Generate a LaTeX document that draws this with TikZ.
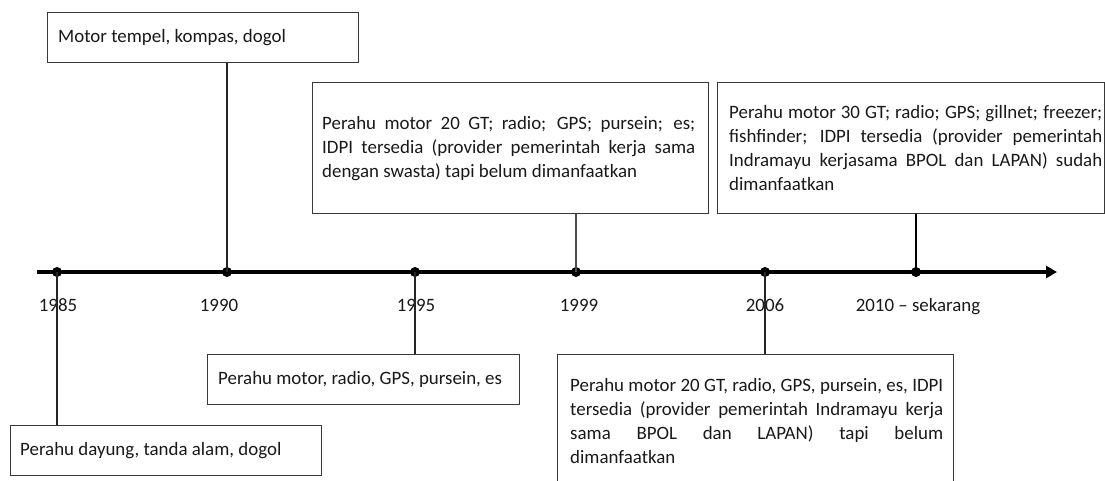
\documentclass[tikz,border=0pt]{standalone}
\usepackage{fontspec}
\setmainfont{Carlito}[Numbers=Lining]
\usetikzlibrary{arrows.meta,positioning,calc}
\newcommand\jline[1]{\makebox[373pt][s]{#1}}
\begin{document}
\begin{tikzpicture}[x=1pt,y=-1pt,
  box/.style={draw=black!78,line width=1.3pt,fill=white,rectangle,inner sep=0pt,anchor=north west},
  txt/.style={inner sep=0pt,anchor=west,font=\fontsize{18.9}{24}\selectfont,text=black!90},
  jtxt/.style={txt,align=left},
  dot/.style={circle,fill=black,inner sep=0pt,minimum size=10pt},
  conn/.style={line width=1.1pt,black!85},
  year/.style={inner sep=0pt,anchor=base,font=\fontsize{18.9}{24}\selectfont,text=black!90}]
\useasboundingbox (0,0) rectangle (1105,480);
\fill[white] (0,0) rectangle (1105,480);
% timeline
\coordinate (tl0) at (37,272);
\coordinate (tl1) at (1057,272);
\draw[line width=4pt,-{Triangle[length=11pt,width=12pt]}] (tl0) -- (tl1);
\node[dot] (d1985) at (57,272) {};
\node[dot] (d1990) at (227,272) {};
\node[dot] (d1995) at (415,272) {};
\node[dot] (d1999) at (576,272) {};
\node[dot] (d2006) at (765,272) {};
\node[dot] (d2010) at (916,272) {};
% years
\node[year] (y1985) at (58,311) {1985};
\node[year] (y1990) at (219,311) {1990};
\node[year] (y1995) at (416,311) {1995};
\node[year] (y1999) at (579,311) {1999};
\node[year] (y2006) at (765,311) {2006};
\node[year] (y2010) at (918,311) {2010 – sekarang};
% boxes
\node[box,minimum width=311pt,minimum height=50pt] (b1) at (47,12) {};
\node[box,minimum width=396pt,minimum height=131pt] (b2) at (312,82) {};
\node[box,minimum width=387pt,minimum height=131pt] (b3) at (717,82) {};
\node[box,minimum width=312pt,minimum height=50pt] (b4) at (207,354) {};
\node[box,minimum width=311pt,minimum height=50pt] (b5) at (10,425) {};
\node[box,minimum width=396pt,minimum height=132pt] (b6) at (557,354) {};
% connectors
\draw[conn] (d1990.center) -- (d1990 |- b1.south);
\draw[conn,black!70] (d1999.center) -- (d1999 |- b2.south);
\draw[line width=2pt] (d2010.center) -- (d2010 |- b3.south);
\draw[conn] (d1995.center) -- (d1995 |- b4.north);
\draw[conn] (d1985.center) -- (d1985 |- b5.north);
\draw[conn] (d2006.center) -- (d2006 |- b6.north);
% texts
\node[txt] (t1) at ([xshift=11pt]b1.west) {Motor tempel, kompas, dogol};
\node[jtxt] (t2) at ([xshift=10pt]b2.west) {\jline{Perahu motor 20 GT; radio; GPS; pursein; es;}\\ \jline{IDPI tersedia (provider pemerintah kerja sama}\\ dengan swasta) tapi belum dimanfaatkan};
\node[jtxt] (t3) at ([xshift=12pt]b3.west) {\jline{Perahu motor 30 GT; radio; GPS; gillnet; freezer;}\\ \jline{fishfinder; IDPI tersedia (provider pemerintah}\\ \jline{Indramayu kerjasama BPOL dan LAPAN) sudah}\\ dimanfaatkan};
\node[txt] (t4) at ([xshift=11pt]b4.west) {Perahu motor, radio, GPS, pursein, es};
\node[txt] (t5) at ([xshift=10pt]b5.west) {Perahu dayung, tanda alam, dogol};
\node[jtxt] (t6) at ([xshift=13pt]b6.west) {\jline{Perahu motor 20 GT, radio, GPS, pursein, es, IDPI}\\ \jline{tersedia (provider pemerintah Indramayu kerja}\\ \jline{sama BPOL dan LAPAN) tapi belum}\\ dimanfaatkan};
\end{tikzpicture}
\end{document}
